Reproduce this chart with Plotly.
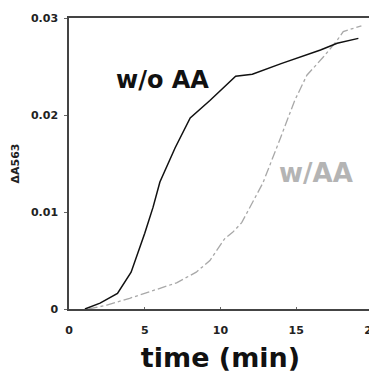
import plotly.graph_objects as go

# w/o AA (black solid)
t_woaa = [1.05, 2.05, 3.2, 4.1, 5.0, 5.55, 6.0, 7.0, 8.0, 9.3, 11.0, 12.1, 14.0, 16.6, 17.7, 19.1]
a_woaa = [0.0, 0.0006, 0.0016, 0.0038, 0.0078, 0.0105, 0.0131, 0.0166, 0.0197, 0.0215, 0.0240, 0.0242, 0.0253, 0.0267, 0.0274, 0.0279]

# w/AA (grey dash-dot)
t_waa = [1.3, 2.5, 4.0, 5.4, 7.1, 8.4, 9.3, 10.3, 10.8, 11.4, 12.1, 12.8, 13.9, 14.9, 15.7, 16.8, 17.7, 18.1, 19.3]
a_waa = [0.0, 0.0004, 0.0011, 0.0018, 0.0027, 0.0038, 0.0050, 0.0073, 0.0079, 0.0089, 0.0109, 0.0130, 0.0174, 0.0215, 0.0241, 0.0260, 0.0277, 0.0286, 0.0292]

x_ticks = [0, 5, 10, 15, 20]
y_ticks = [0, 0.01, 0.02, 0.03]
y_labels = ["0", "0.01", "0.02", "0.03"]

fig = go.Figure()
fig.add_trace(go.Scatter(x=t_waa, y=a_waa, mode="lines",
                         line=dict(color="#a8a8a8", width=1.3, dash="dashdot"),
                         showlegend=False))
fig.add_trace(go.Scatter(x=t_woaa, y=a_woaa, mode="lines",
                         line=dict(color="#111111", width=1.5),
                         showlegend=False))

fig.add_annotation(x=6.2, y=0.0236, text="<b>w/o AA</b>", showarrow=False,
                   font=dict(family="DejaVu Sans", size=24, color="#111111"))
fig.add_annotation(x=16.3, y=0.0140, text="<b>w/AA</b>", showarrow=False,
                   font=dict(family="DejaVu Sans", size=26, color="#b4b4b4"))

# page body has an 8px margin, so the figure is sized/margined to compensate
fig.update_layout(
    width=369, height=366,
    margin=dict(l=61, r=5, t=10, b=65),
    paper_bgcolor="white", plot_bgcolor="white",
    font=dict(family="DejaVu Sans", color="#222222"),
    xaxis=dict(range=[0, 20], tickvals=x_ticks, ticktext=["<b>%d</b>" % v for v in x_ticks],
               automargin=False, ticklabeloverflow="allow",
               showgrid=False, zeroline=False, showline=True, linecolor="#444444",
               linewidth=1.5, mirror=True, ticks="inside", ticklen=2, tickcolor="#666666",
               ticklabelstandoff=10,
               tickfont=dict(size=11, color="#222222"),
               title=dict(text="<b>time (min)</b>", font=dict(size=27, color="#111111"), standoff=12)),
    yaxis=dict(range=[0, 0.03], tickvals=y_ticks, ticktext=["<b>%s</b>" % s for s in y_labels],
               automargin=False,
               showgrid=False, zeroline=False, showline=True, linecolor="#444444",
               linewidth=1.5, mirror=True, ticks="outside", ticklen=3, tickcolor="#666666",
               ticklabelstandoff=4,
               tickfont=dict(size=11, color="#222222"),
               title=dict(text="<b>ΔA563</b>", font=dict(size=11, color="#222222"), standoff=9)),
)

fig.write_html("out.html")
